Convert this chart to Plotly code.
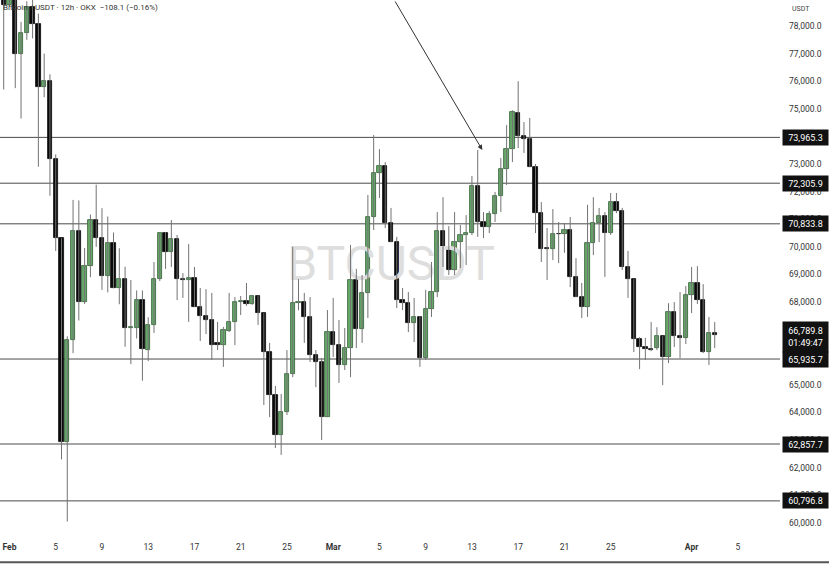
import pandas as pd
import plotly.graph_objects as go

# 12h candles, Jan 31 12:00 -> Apr 3 00:00
opens = [79700, 78760, 79500, 77000, 77760, 78700, 78090, 75780, 76000, 73190,
         70310, 62920, 66610, 70560, 67990, 69300, 70960, 70310, 68930, 70130,
         68520, 68840, 67050, 67060, 68080, 66270, 67170, 68830, 70500, 69810,
         70280, 68830, 68800, 68870, 67820, 67490, 67350, 66510, 66440, 66950,
         67280, 68000, 68040, 67930, 68220, 67600, 66190, 64630, 63180, 64010,
         65390, 67970, 68000, 67460, 66080, 65830, 63830, 66910, 66440, 65720,
         66330, 68800, 67020, 68330, 71080, 72670, 72930, 70860, 70170, 68070,
         67960, 67240, 67460, 65970, 67750, 68360, 70570, 69960, 69160, 70170,
         70430, 70500, 72200, 70900, 70720, 71190, 71840, 72820, 73540, 74850,
         74010, 73900, 72890, 71220, 69950, 69920, 70480, 70450, 70610, 68910,
         68180, 67820, 70140, 70860, 71120, 70500, 71620, 71300, 69270, 68830,
         66660, 66370, 66300, 66330, 66770, 66010, 67640, 66770, 66700, 68250,
         68690, 68070, 66190, 66880]
highs = [80100, 79900, 79700, 78150, 78900, 79000, 78450, 77000, 76250, 73350,
         70310, 66760, 71700, 71680, 69960, 71170, 72250, 71400, 71100, 70520,
         69950, 69280, 68800, 68420, 68420, 67450, 69450, 70540, 70540, 70970,
         70430, 69050, 70100, 69270, 68510, 68470, 68330, 67280, 67100, 68330,
         68180, 68220, 68690, 68250, 68220, 67600, 66520, 64960, 64670, 66260,
         70000, 68830, 68330, 68180, 66260, 65970, 67710, 68150, 67350, 67060,
         70070, 69200, 68980, 71880, 74050, 73540, 73070, 71410, 70360, 68510,
         68360, 68150, 67490, 68440, 69450, 71260, 71800, 70750, 71260, 70790,
         71150, 72570, 73510, 71260, 71300, 71990, 73220, 74410, 74950, 76000,
         74520, 74670, 73000, 71620, 70680, 71370, 70900, 70860, 71080, 69590,
         68690, 71520, 71800, 71410, 71260, 71950, 71950, 71410, 69850, 68830,
         66730, 66700, 67280, 67090, 66770, 67960, 68000, 68360, 68580, 69270,
         69300, 68650, 67460, 67280]
lows = [75700, 78700, 75750, 74650, 77500, 77550, 72900, 75420, 71850, 69850,
        62300, 60050, 66150, 67330, 67930, 68900, 70000, 68440, 68350, 68500,
        67920, 66380, 65750, 66680, 65150, 65860, 66880, 68760, 69200, 69270,
        68070, 68150, 67280, 67820, 66590, 66840, 65900, 66260, 65650, 66910,
        66440, 67530, 67860, 67900, 67170, 64270, 63830, 62710, 62460, 63910,
        65280, 67700, 66520, 65830, 64920, 63000, 63830, 66010, 65070, 65540,
        65280, 66330, 66520, 67420, 70610, 71770, 70680, 70170, 67780, 67710,
        66910, 66550, 65650, 65900, 67460, 68180, 69270, 68980, 68980, 69230,
        69340, 70430, 70360, 70320, 70500, 70900, 71260, 72240, 73070, 73580,
        73400, 72890, 70500, 69450, 68800, 69520, 69410, 69780, 68540, 68180,
        67420, 67460, 69700, 70170, 68910, 70430, 71220, 69160, 68150, 66190,
        65570, 65900, 66220, 66260, 64990, 65790, 66370, 65970, 66480, 67600,
        67930, 66150, 65720, 66330]
closes = [78760, 79500, 77000, 77760, 78680, 78090, 75780, 76000, 73190, 70310,
          62920, 66610, 70560, 67990, 69300, 70960, 70310, 68930, 70130, 68520,
          68840, 67050, 67090, 68080, 66300, 67170, 68830, 70500, 69810, 70280,
          68830, 68790, 68870, 67820, 67490, 67350, 66440, 66440, 66990, 67280,
          68000, 68050, 67930, 68220, 67600, 66190, 64630, 63180, 64010, 65390,
          67970, 68000, 67460, 66080, 65830, 63830, 66910, 66440, 65720, 66330,
          68800, 67020, 68330, 71080, 72670, 72930, 70860, 70170, 68070, 67960,
          67240, 67460, 65970, 67750, 68360, 70570, 69960, 69160, 70170, 70430,
          70500, 72200, 70900, 70720, 71190, 71840, 72820, 73540, 74880, 74010,
          73900, 72890, 71220, 69920, 69920, 70460, 70450, 70610, 68910, 68180,
          67820, 70140, 70860, 71120, 70500, 71620, 71300, 69270, 68830, 66660,
          66370, 66300, 66280, 66770, 66010, 67640, 66770, 66700, 68250, 68690,
          68070, 66190, 66880, 66789.8]

levels = [73965.3, 72305.9, 70833.8, 65935.7, 62857.7, 60796.8]
last_price = 66789.8
countdown = "01:49:47"

tick_dates = ["2026-02-01", "2026-02-05", "2026-02-09", "2026-02-13", "2026-02-17",
              "2026-02-21", "2026-02-25", "2026-03-01", "2026-03-05", "2026-03-09",
              "2026-03-13", "2026-03-17", "2026-03-21", "2026-03-25", "2026-04-01",
              "2026-04-05"]
tick_text = ["<b>Feb</b>", "5", "9", "13", "17", "21", "25", "<b>Mar</b>", "5", "9",
             "13", "17", "21", "25", "<b>Apr</b>", "5"]

dates = pd.date_range(start="2026-01-31 12:00", periods=len(opens), freq="12h")

GREEN = "#67a96a"
GREEN_EDGE = "#2f5e31"
BLACK = "#0a0a0a"
FONT = "Roboto"

up = [c >= o for o, c in zip(opens, closes)]

# wicks as one broken line
wx, wy = [], []
for d, h, l in zip(dates, highs, lows):
    wx += [d, d, None]
    wy += [l, h, None]

fig = go.Figure()

# watermark behind the candles
fig.add_trace(go.Scatter(
    x=[pd.Timestamp("2026-03-06 00:00")], y=[69230],
    mode="text", text=["BTCUSDT"],
    textfont=dict(family=FONT, size=48, color="#dedede"),
    hoverinfo="skip", showlegend=False
))

fig.add_trace(go.Scatter(
    x=wx, y=wy, mode="lines",
    line=dict(color="#737373", width=1),
    hoverinfo="skip", showlegend=False
))

fig.add_trace(go.Bar(
    x=dates,
    y=[abs(c - o) for o, c in zip(opens, closes)],
    base=[min(o, c) for o, c in zip(opens, closes)],
    width=0.74 * 12 * 3600 * 1000,
    marker=dict(
        color=[GREEN if u else BLACK for u in up],
        line=dict(color=[GREEN_EDGE if u else BLACK for u in up], width=0.8)
    ),
    showlegend=False
))

# horizontal levels
for lv in levels:
    fig.add_shape(type="line", xref="paper", x0=0, x1=1, yref="y", y0=lv, y1=lv,
                  line=dict(color="#4a4a4a", width=1), layer="below")

# price-axis boxes
for lv in levels:
    fig.add_annotation(xref="paper", x=1, xanchor="left", xshift=2, yref="y", y=lv,
                       text=f"{lv:,.1f}", showarrow=False, width=43, height=13,
                       bgcolor="#111111", borderpad=1,
                       font=dict(family=FONT, size=9, color="white"))
fig.add_annotation(xref="paper", x=1, xanchor="left", xshift=2, yref="y", y=last_price,
                   yshift=-2, text=f"{last_price:,.1f}<br>{countdown}", showarrow=False,
                   width=43, height=28, bgcolor="#111111", borderpad=1,
                   font=dict(family=FONT, size=9, color="white"))

fig.add_annotation(xref="paper", yref="paper", x=1, y=1, xanchor="left", yanchor="top",
                   xshift=10, yshift=-3, text="USDT", showarrow=False,
                   font=dict(family=FONT, size=7, color="#444"))

fig.add_annotation(xref="paper", yref="paper", x=0, y=1, xanchor="left", yanchor="top",
                   xshift=1, yshift=-1, showarrow=False,
                   text="Bitcoin / USDT · 12h · OKX  −108.1 (−0.16%)",
                   font=dict(family=FONT, size=8, color="#333"))

# hand-drawn arrow
fig.add_annotation(x=pd.Timestamp("2026-03-13 21:30"), y=73510, ax=-88, ay=-152,
                   showarrow=True, arrowhead=2, arrowsize=1, arrowwidth=1,
                   arrowcolor="#333", text="")

# bottom border
fig.add_shape(type="line", xref="paper", yref="paper", x0=0, x1=1.07, y0=-0.041, y1=-0.041,
              line=dict(color="#555", width=2))

fig.update_layout(
    width=829, height=564,
    margin=dict(l=0, r=49, t=0, b=24),
    paper_bgcolor="white", plot_bgcolor="white",
    bargap=0,
    xaxis=dict(type="date", range=["2026-01-31 04:20", "2026-04-08 15:30"],
               tickvals=tick_dates, ticktext=tick_text, showgrid=False, zeroline=False,
               tickfont=dict(family=FONT, size=8.5, color="#333"), ticks=""),
    yaxis=dict(side="right", range=[59380, 78942], dtick=1000, tick0=0,
               tickformat=",.1f", showgrid=False, zeroline=False, ticks="",
               ticklabelstandoff=8,
               tickfont=dict(family=FONT, size=8.5, color="#333")),
    hovermode=False
)

fig.write_html("out.html", config={"displayModeBar": False},
               post_script="document.body.style.margin='0px';")
